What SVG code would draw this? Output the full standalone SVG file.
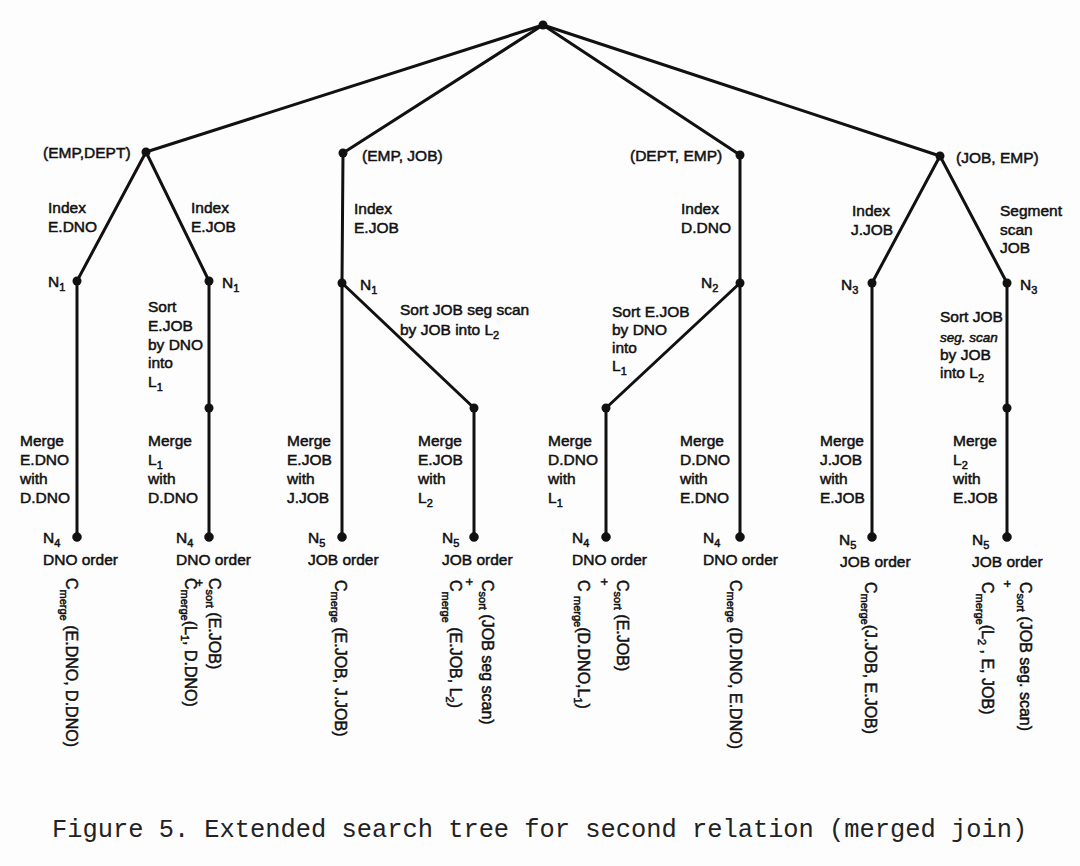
<svg xmlns="http://www.w3.org/2000/svg" width="1080" height="866" viewBox="0 0 1080 866">
<style>
.t{font-family:"Liberation Sans",Arial,sans-serif;font-size:15.5px;fill:#111;stroke:#111;stroke-width:0.5px}
.s{font-size:11px}
.r{font-size:16px}
.cap{font-family:"Liberation Mono","Courier New",monospace;font-size:25.4px;fill:#222}
.e{stroke:#111;stroke-width:3;stroke-linecap:round;fill:none}
.n{fill:#111}
</style>
<rect width="1080" height="866" fill="#fdfdfd"/>
<g id="connectors" class="e">
<line x1="543" y1="25" x2="146" y2="152"/>
<line x1="543" y1="25" x2="343" y2="153"/>
<line x1="543" y1="25" x2="740" y2="155"/>
<line x1="543" y1="25" x2="940" y2="156"/>
<line x1="146" y1="152" x2="77" y2="281"/>
<line x1="146" y1="152" x2="209" y2="281"/>
<line x1="77" y1="281" x2="77" y2="537"/>
<line x1="209" y1="281" x2="209" y2="408"/>
<line x1="209" y1="408" x2="209" y2="537"/>
<line x1="343" y1="153" x2="342" y2="283"/>
<line x1="342" y1="283" x2="342" y2="537"/>
<line x1="342" y1="283" x2="474" y2="408"/>
<line x1="474" y1="408" x2="474" y2="537"/>
<line x1="740" y1="155" x2="740" y2="283"/>
<line x1="740" y1="283" x2="606" y2="408"/>
<line x1="606" y1="408" x2="606" y2="537"/>
<line x1="740" y1="283" x2="740" y2="537"/>
<line x1="940" y1="156" x2="872" y2="283"/>
<line x1="940" y1="156" x2="1007" y2="283"/>
<line x1="872" y1="283" x2="872" y2="537"/>
<line x1="1007" y1="283" x2="1007" y2="408"/>
<line x1="1007" y1="408" x2="1007" y2="537"/>
</g>
<g id="edge-labels" class="t">
<text x="48" y="213">Index</text><text x="48" y="232">E.DNO</text>
<text x="191" y="213">Index</text><text x="191" y="232">E.JOB</text>
<text x="354" y="214">Index</text><text x="354" y="233">E.JOB</text>
<text x="681" y="214">Index</text><text x="681" y="233">D.DNO</text>
<text x="852" y="216">Index</text><text x="851" y="235">J.JOB</text>
<text x="1000" y="216">Segment</text><text x="1000" y="235">scan</text><text x="1000" y="253">JOB</text>
<text x="148" y="312">Sort</text><text x="148" y="331">E.JOB</text><text x="148" y="350">by DNO</text><text x="148" y="368">into</text><text x="148" y="387">L<tspan class="s" dy="4">1</tspan></text>
<text x="400" y="315">Sort JOB seg scan</text><text x="400" y="335">by JOB into L<tspan class="s" dy="4">2</tspan></text>
<text x="612" y="317">Sort E.JOB</text><text x="612" y="335">by DNO</text><text x="612" y="353">into</text><text x="612" y="371">L<tspan class="s" dy="4">1</tspan></text>
<text x="940" y="322">Sort JOB</text><text x="940" y="342" font-style="italic" style="font-size:13.5px">seg. scan</text><text x="940" y="360">by JOB</text><text x="940" y="378">into L<tspan class="s" dy="4">2</tspan></text>
<text x="20" y="446">Merge</text><text x="20" y="465">E.DNO</text><text x="20" y="484">with</text><text x="20" y="503">D.DNO</text>
<text x="148" y="446">Merge</text><text x="148" y="465">L<tspan class="s" dy="4">1</tspan></text><text x="148" y="484">with</text><text x="148" y="503">D.DNO</text>
<text x="287" y="446">Merge</text><text x="287" y="465">E.JOB</text><text x="287" y="484">with</text><text x="287" y="503">J.JOB</text>
<text x="418" y="446">Merge</text><text x="418" y="465">E.JOB</text><text x="418" y="484">with</text><text x="418" y="503">L<tspan class="s" dy="4">2</tspan></text>
<text x="548" y="446">Merge</text><text x="548" y="465">D.DNO</text><text x="548" y="484">with</text><text x="548" y="503">L<tspan class="s" dy="4">1</tspan></text>
<text x="680" y="446">Merge</text><text x="680" y="465">D.DNO</text><text x="680" y="484">with</text><text x="680" y="503">E.DNO</text>
<text x="820" y="446">Merge</text><text x="820" y="465">J.JOB</text><text x="820" y="484">with</text><text x="820" y="503">E.JOB</text>
<text x="953" y="446">Merge</text><text x="953" y="465">L<tspan class="s" dy="4">2</tspan></text><text x="953" y="484">with</text><text x="953" y="503">E.JOB</text>
</g>
<g id="root"><circle class="n" cx="543" cy="25" r="4.5"/></g>
<g id="emp-dept"><circle class="n" cx="146" cy="152" r="4.5"/><text class="t" x="43" y="158">(EMP,DEPT)</text></g>
<g id="emp-job"><circle class="n" cx="343" cy="153" r="4.5"/><text class="t" x="362" y="161">(EMP, JOB)</text></g>
<g id="dept-emp"><circle class="n" cx="740" cy="155" r="4.5"/><text class="t" x="630" y="161">(DEPT, EMP)</text></g>
<g id="job-emp"><circle class="n" cx="940" cy="156" r="4.5"/><text class="t" x="956" y="163">(JOB, EMP)</text></g>
<g id="n1-a"><circle class="n" cx="77" cy="281" r="4.5"/><text class="t" x="48" y="287">N<tspan class="s" dy="4">1</tspan></text></g>
<g id="n1-b"><circle class="n" cx="209" cy="281" r="4.5"/><text class="t" x="222" y="288">N<tspan class="s" dy="4">1</tspan></text></g>
<g id="n1-c"><circle class="n" cx="342" cy="283" r="4.5"/><text class="t" x="360" y="290">N<tspan class="s" dy="4">1</tspan></text></g>
<g id="n2"><circle class="n" cx="740" cy="283" r="4.5"/><text class="t" x="701" y="288">N<tspan class="s" dy="4">2</tspan></text></g>
<g id="n3-a"><circle class="n" cx="872" cy="283" r="4.5"/><text class="t" x="841" y="290">N<tspan class="s" dy="4">3</tspan></text></g>
<g id="n3-b"><circle class="n" cx="1007" cy="283" r="4.5"/><text class="t" x="1020" y="290">N<tspan class="s" dy="4">3</tspan></text></g>
<g id="l1"><circle class="n" cx="209" cy="408" r="4.5"/></g>
<g id="l2-a"><circle class="n" cx="474" cy="408" r="4.5"/></g>
<g id="l1-b"><circle class="n" cx="606" cy="408" r="4.5"/></g>
<g id="l2-b"><circle class="n" cx="1007" cy="408" r="4.5"/></g>
<g id="leaf1" class="t"><circle class="n" cx="77" cy="537" r="4.5"/><text x="43" y="543">N<tspan class="s" dy="4">4</tspan></text><text x="43" y="565">DNO order</text>
<text class="r" transform="translate(66,578) rotate(90)">C<tspan class="s" dy="6">merge</tspan><tspan dy="-6"> (E.DNO, D.DNO)</tspan></text></g>
<g id="leaf2" class="t"><circle class="n" cx="209" cy="537" r="4.5"/><text x="176" y="543">N<tspan class="s" dy="4">4</tspan></text><text x="176" y="565">DNO order</text>
<text class="r" transform="translate(209,578) rotate(90)">C<tspan class="s" dy="3">sort</tspan><tspan dy="-3">  (E.JOB)</tspan></text>
<text style="font-size:13px" transform="translate(195,579) rotate(90)">+</text>
<text class="r" transform="translate(185,578) rotate(90)">C<tspan class="s" dy="4">merge</tspan><tspan dy="-4">(L</tspan><tspan class="s" dy="4">1</tspan><tspan dy="-4">, D.DNO)</tspan></text></g>
<g id="leaf3" class="t"><circle class="n" cx="342" cy="537" r="4.5"/><text x="308" y="543">N<tspan class="s" dy="4">5</tspan></text><text x="308" y="565">JOB order</text>
<text class="r" transform="translate(335,580) rotate(90)">C<tspan class="s" dy="4">merge</tspan><tspan dy="-4"> (E.JOB, J.JOB)</tspan></text></g>
<g id="leaf4" class="t"><circle class="n" cx="474" cy="537" r="4.5"/><text x="442" y="543">N<tspan class="s" dy="4">5</tspan></text><text x="442" y="565">JOB order</text>
<text class="r" transform="translate(482,580) rotate(90)">C<tspan class="s" dy="3">sort</tspan><tspan dy="-3"> (JOB seg scan)</tspan></text>
<text style="font-size:13px" transform="translate(465,578) rotate(90)">+</text>
<text class="r" transform="translate(450,580) rotate(90)">C<tspan class="s" dy="8">merge</tspan><tspan dy="-8"> (E.JOB, L</tspan><tspan class="s" dy="4">2</tspan><tspan dy="-4">)</tspan></text></g>
<g id="leaf5" class="t"><circle class="n" cx="606" cy="537" r="4.5"/><text x="572" y="543">N<tspan class="s" dy="4">4</tspan></text><text x="572" y="565">DNO order</text>
<text class="r" transform="translate(617,580) rotate(90)">C<tspan class="s" dy="3">sort</tspan><tspan dy="-3"> (E.JOB)</tspan></text>
<text style="font-size:13px" transform="translate(600,578) rotate(90)">+</text>
<text class="r" transform="translate(578,580) rotate(90)">C <tspan class="s" dy="4">merge</tspan><tspan dy="-4">(D.DNO,L</tspan><tspan class="s" dy="4">1</tspan><tspan dy="-4">)</tspan></text></g>
<g id="leaf6" class="t"><circle class="n" cx="740" cy="537" r="4.5"/><text x="703" y="543">N<tspan class="s" dy="4">4</tspan></text><text x="703" y="565">DNO order</text>
<text class="r" transform="translate(730,580) rotate(90)">C<tspan class="s" dy="3">merge</tspan><tspan dy="-3"> (D.DNO, E.DNO)</tspan></text></g>
<g id="leaf7" class="t"><circle class="n" cx="872" cy="537" r="4.5"/><text x="839" y="545">N<tspan class="s" dy="4">5</tspan></text><text x="840" y="567">JOB order</text>
<text class="r" transform="translate(865,582) rotate(90)">C<tspan class="s" dy="4">merge</tspan><tspan dy="-4">(J.JOB, E.JOB)</tspan></text></g>
<g id="leaf8" class="t"><circle class="n" cx="1007" cy="537" r="4.5"/><text x="972" y="545">N<tspan class="s" dy="4">5</tspan></text><text x="972" y="567">JOB order</text>
<text class="r" transform="translate(1020,582) rotate(90)">C<tspan class="s" dy="3">sort</tspan><tspan dy="-3"> (JOB seg. scan)</tspan></text>
<text style="font-size:13px" transform="translate(1003,580) rotate(90)">+</text>
<text class="r" transform="translate(982,582) rotate(90)">C<tspan class="s" dy="6">merge</tspan><tspan dy="-6">(L</tspan><tspan class="s" dy="4">2</tspan><tspan dy="-4"> , E, JOB)</tspan></text></g>
<text class="cap" x="52" y="837">Figure 5. Extended search tree for second relation (merged join)</text>
</svg>
